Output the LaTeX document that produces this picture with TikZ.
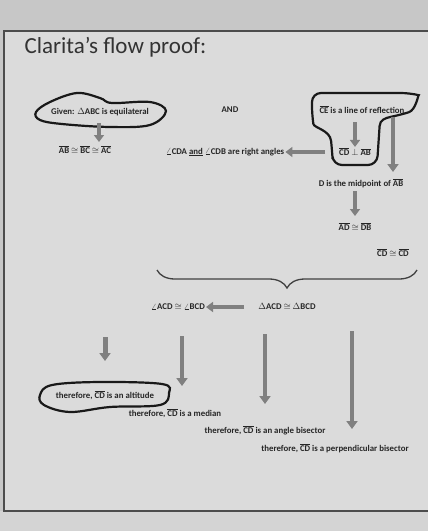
\documentclass[tikz,border=0pt]{standalone}
\usepackage{fontspec}
\setmainfont{Carlito}
\usetikzlibrary{arrows.meta,decorations.pathreplacing}
\newcommand{\seg}[1]{$\overline{\mbox{#1}}$}
\begin{document}
\begin{tikzpicture}[x=1pt,y=-1pt,
  txt/.style={font=\fontsize{8.8}{10}\selectfont\bfseries, text=black!85, inner sep=1pt},
  blk/.style={line width=4.5pt, draw=black!50, -{Triangle[length=8pt,width=11pt]}},
  blkarrow/.style={line width=4.5pt, draw=black!50, -{Triangle[length=7pt,width=10pt]}},
  cloudline/.style={line width=2.2pt, draw=black!90},
  frame/.style={line width=1.2pt, draw=black!70}]
\useasboundingbox (0,0) rectangle (428,531);
\fill[black!22] (0,0) rectangle (428,531);
\fill[black!14] (4,31) rectangle (428,511);
\fill[black!17] (0,511) rectangle (428,531);
\draw[frame] (428,31) -- (4,31) -- (4,511) -- (428,511);

\node[anchor=base west, font=\fontsize{23}{26}\selectfont, text=black!80] (title) at (21,53) {Clarita’s flow proof:};

% top-left cloud
\node[txt] (given) at (100,112) {Given: $\Delta$ABC is equilateral};
\draw[cloudline] plot[smooth cycle, tension=0.6] coordinates
  {(36,112) (50,102) (77,93) (100,98) (112,103) (150,102) (166,111) (150,125) (110,127) (62,124) (40,120)};
\node[txt] (eq) at (85,150) {\seg{AB} $\cong$ \seg{BC} $\cong$ \seg{AC}};
\coordinate (g1) at (99,123);
\coordinate (g2) at (99,142);
\draw[blkarrow] (g1) -- (g2);

\node[txt] (and) at (230,110) {AND};

% right group
\node[txt] (ce) at (362,110) {\seg{CE} is a line of reflection};
\node[txt] (perp) at (355,152) {\seg{CD} $\perp$ \seg{AB}};
\draw[cloudline, rounded corners=9pt] (312,93) -- (410,93) .. controls (418,95) and (416,110) .. (400,115)
  .. controls (385,118) and (380,120) .. (379,135) -- (377,165) -- (333,165) -- (332,150)
  .. controls (330,130) and (314,128) .. (312,115) -- cycle;
\coordinate (c1) at (355,122);
\draw[blkarrow] (c1) -- (perp.north);
\node[txt] (right) at (225,152) {$\angle$CDA \underline{and} $\angle$CDB are right angles};
\coordinate (p1) at (325,152);
\draw[blkarrow] (p1) -- (right.east);

\node[txt] (mid) at (361,183) {D is the midpoint of \seg{AB}};
\coordinate (m0) at (393,117);
\coordinate (m1) at (393,172);
\draw[blk] (m0) -- (m1);
\node[txt] (ad) at (355,227) {\seg{AD} $\cong$ \seg{DB}};
\coordinate (d1) at (355,191);
\coordinate (d2) at (355,216);
\draw[blkarrow] (d1) -- (d2);
\node[txt] (cd) at (393,253) {\seg{CD} $\cong$ \seg{CD}};

% brace
\coordinate (bl) at (157,270);
\coordinate (br) at (417,270);
\draw[line width=1.3pt, black!75, decorate, decoration={brace, mirror, amplitude=18pt}] (bl) -- (br);

\node[txt] (tri) at (287,307) {$\Delta$ACD $\cong$ $\Delta$BCD};
\node[txt] (ang) at (178,307) {$\angle$ACD $\cong$ $\angle$BCD};
\coordinate (t1) at (244,307);
\draw[blkarrow] (t1) -- (ang.east);

% conclusions
\node[txt] (alt) at (105,395) {therefore, \seg{CD} is an altitude};
\draw[cloudline] plot[smooth cycle, tension=0.6] coordinates
  {(40,395) (52,385) (100,382) (162,384) (169,393) (160,405) (110,407) (70,412) (44,405)};
\node[txt] (med) at (175,413) {therefore, \seg{CD} is a median};
\node[txt] (bis) at (265,430) {therefore, \seg{CD} is an angle bisector};
\node[txt] (pb) at (335,448) {therefore, \seg{CD} is a perpendicular bisector};

\coordinate (s1) at (105,337);
\coordinate (s2) at (182,336);
\coordinate (s3) at (265,334);
\coordinate (s4) at (352,331);
\coordinate (e1) at (105,361);
\coordinate (e2) at (182,386);
\coordinate (e3) at (265,404);
\coordinate (e4) at (352,429);
\draw[blk, line width=5pt] (s1) -- (e1);
\draw[blk] (s2) -- (e2);
\draw[blk] (s3) -- (e3);
\draw[blk] (s4) -- (e4);
\end{tikzpicture}
\end{document}
